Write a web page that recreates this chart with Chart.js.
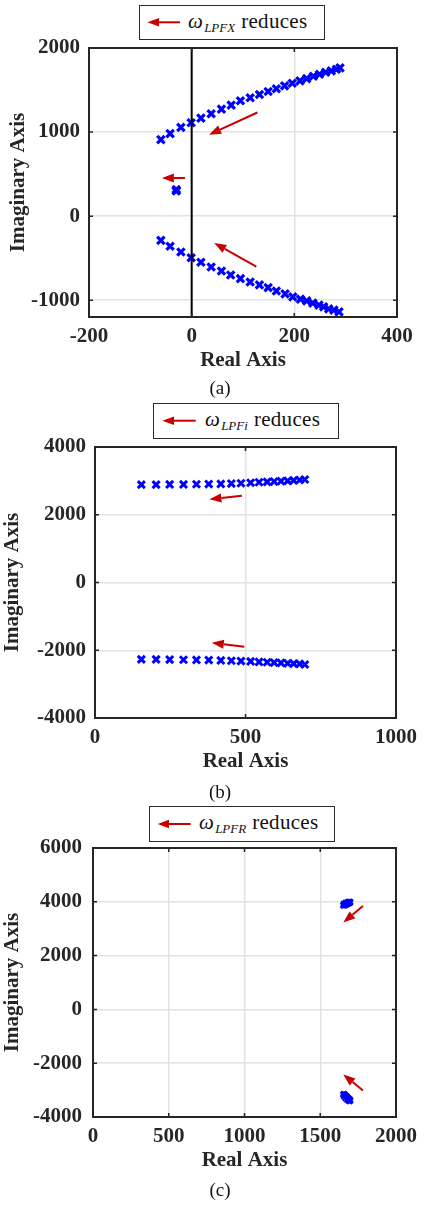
<!DOCTYPE html>
<html>
<head>
<meta charset="utf-8">
<script src="https://cdn.jsdelivr.net/npm/chart.js@4.4.1/dist/chart.umd.min.js"></script>
<style>
body{margin:0;background:#fff;width:424px;height:1205px;position:relative;overflow:hidden;font-family:"Liberation Serif","Times New Roman",serif;color:#111;}
.panel{position:absolute;left:0;width:424px;}
.lbox{position:absolute;border:1.5px solid #2b2b2b;background:#fff;box-sizing:border-box;}
.ltxt{position:absolute;white-space:nowrap;font-size:21px;line-height:21px;letter-spacing:0.3px;}
.ltxt i{font-style:italic;}
.ltxt sub{font-size:13px;font-style:italic;vertical-align:-4px;line-height:0;margin-left:1px;margin-right:6px;letter-spacing:0;}
.cap{position:absolute;width:60px;text-align:center;font-size:19px;line-height:19px;}
svg.arr{position:absolute;left:0;top:0;}
</style>
</head>
<body>

<div class="panel" style="top:0;height:400px"><canvas id="chartA"></canvas></div>
<div class="panel" style="top:400px;height:400px"><canvas id="chartB"></canvas></div>
<div class="panel" style="top:800px;height:405px"><canvas id="chartC"></canvas></div>

<!-- legend boxes -->
<div class="lbox" style="left:139px;top:5px;width:186px;height:35px"></div>
<div class="ltxt" style="left:188px;top:11px"><i>ω</i><sub>LPFX</sub>reduces</div>

<div class="lbox" style="left:153px;top:403px;width:186px;height:36px"></div>
<div class="ltxt" style="left:205px;top:409px"><i>ω</i><sub>LPFi</sub>reduces</div>

<div class="lbox" style="left:149px;top:806px;width:186px;height:36px"></div>
<div class="ltxt" style="left:199px;top:812px"><i>ω</i><sub>LPFR</sub>reduces</div>

<svg class="arr" width="424" height="1205">
  <g stroke="#c80000" stroke-width="2" fill="#c80000">
    <line x1="180" y1="22.3" x2="158" y2="22.3"/><polygon points="147.5,22.3 159,18 159,26.6" stroke="none"/>
    <line x1="195.7" y1="420.7" x2="173" y2="420.7"/><polygon points="162.3,420.7 174,416.4 174,425" stroke="none"/>
    <line x1="190.7" y1="824" x2="168" y2="824"/><polygon points="157.7,824 169,819.7 169,828.3" stroke="none"/>
  </g>
</svg>

<div class="cap" style="left:190px;top:378px">(a)</div>
<div class="cap" style="left:190px;top:782px">(b)</div>
<div class="cap" style="left:190px;top:1180px">(c)</div>

<script>
// ===== DATA =====

// (a) omega_LPFX sweep
const aUpRe = [-60,-42,-21,-1,18,38,58,77,95,114,132,149,165,181,196,211,224,237,249,261,272,282,289];
const aUpIm = [910,981,1056,1111,1166,1218,1273,1320,1372,1408,1447,1483,1515,1550,1581,1609,1636,1664,1688,1711,1728,1747,1764];
const aLoRe = [-60,-42,-21,-1,18,38,58,76,95,114,132,149,165,182,197,212,224,236,248,257,267,277,287];
const aLoIm = [-288,-359,-427,-495,-549,-605,-652,-700,-743,-783,-818,-850,-890,-925,-961,-988,-1008,-1035,-1059,-1079,-1103,-1118,-1139];
const aMidRe = [-30,-30];
const aMidIm = [300,315];
const aXTicks = [-200,0,200,400];
const aYTicks = [-1000,0,1000,2000];
const aArrows = [[128,1233,34,969],[-13,454,-58,454],[126,-601,44,-320]];

// (b) omega_LPFi sweep
const bRe   = [154,203,248,294,337,378,418,453,485,517,545,572,595,618,640,660,680,697];
const bUpIm = [2890,2890,2895,2895,2900,2905,2910,2920,2930,2945,2960,2970,2980,2990,3000,3015,3025,3040];
const bLoIm = [-2270,-2270,-2275,-2280,-2285,-2290,-2300,-2310,-2320,-2330,-2345,-2355,-2365,-2375,-2385,-2395,-2405,-2420];
const bXTicks = [0,500,1000];
const bYTicks = [-4000,-2000,0,2000,4000];
const bArrows = [[488,2558,380,2461],[496,-1899,388,-1782]];

// (c) omega_LPFR sweep
const cRe   = [1650,1655,1662,1668,1675,1682,1690,1697,1700,1694,1686,1676,1664,1654];
const cUpIm = [3870,3850,3860,3880,3900,3920,3940,3960,3990,4010,4000,3985,3960,3930];
const cLoIm = [-3160,-3140,-3150,-3190,-3230,-3270,-3310,-3350,-3390,-3420,-3400,-3360,-3300,-3230];
const cXTicks = [0,500,1000,1500,2000];
const cYTicks = [-4000,-2000,0,2000,4000,6000];
const cArrows = [[1782,3847,1652,3228],[1782,-3016,1652,-2421]];

// ===== STYLE =====
const ink = '#262626';
const red = '#c80000';
const blue = '#0000ff';
const gridColor = '#e2e2e2';
const tickFont = { family: '"Liberation Serif", "Times New Roman", serif', size: 21, weight: 'bold', lineHeight: 1.2 };

function pts(re, im) {
    return re.map((x, i) => ({ x: x, y: im[i] }));
}

function markers(re, im, r, w) {
    return {
        data: pts(re, im),
        pointStyle: 'crossRot',
        pointRadius: r,
        pointBorderWidth: w,
        borderColor: blue,
        backgroundColor: blue,
        showLine: false
    };
}

// box + inward ticks (MATLAB look)
const framePlugin = {
    id: 'frame',
    afterDraw(chart) {
        const { ctx, chartArea: a, scales: { x, y } } = chart;
        ctx.save();
        ctx.strokeStyle = ink;
        ctx.lineWidth = 1.5;
        ctx.beginPath();
        x.ticks.forEach(t => {
            const px = x.getPixelForValue(t.value);
            ctx.moveTo(px, a.bottom); ctx.lineTo(px, a.bottom - 4);
            ctx.moveTo(px, a.top); ctx.lineTo(px, a.top + 4);
        });
        y.ticks.forEach(t => {
            const py = y.getPixelForValue(t.value);
            ctx.moveTo(a.left, py); ctx.lineTo(a.left + 4, py);
            ctx.moveTo(a.right, py); ctx.lineTo(a.right - 4, py);
        });
        ctx.stroke();
        ctx.lineWidth = 2;
        ctx.strokeRect(a.left, a.top, a.right - a.left, a.bottom - a.top);
        ctx.restore();
    }
};

// red direction arrows, given in data coordinates
function arrowPlugin(list) {
    return {
        id: 'arrows',
        afterDatasetsDraw(chart) {
            const { ctx, scales: { x, y } } = chart;
            ctx.save();
            ctx.strokeStyle = red;
            ctx.fillStyle = red;
            ctx.lineWidth = 2;
            list.forEach(([x0, y0, x1, y1]) => {
                const ax = x.getPixelForValue(x0), ay = y.getPixelForValue(y0);
                const bx = x.getPixelForValue(x1), by = y.getPixelForValue(y1);
                const ang = Math.atan2(by - ay, bx - ax);
                const L = 12, W = 4.5;
                const hx = bx - L * Math.cos(ang), hy = by - L * Math.sin(ang);
                ctx.beginPath();
                ctx.moveTo(ax, ay); ctx.lineTo(hx, hy);
                ctx.stroke();
                ctx.beginPath();
                ctx.moveTo(bx, by);
                ctx.lineTo(hx + W * Math.sin(ang), hy - W * Math.cos(ang));
                ctx.lineTo(hx - W * Math.sin(ang), hy + W * Math.cos(ang));
                ctx.closePath();
                ctx.fill();
            });
            ctx.restore();
        }
    };
}

function rootLocus(id, p) {
    return new Chart(document.getElementById(id), {
        type: 'scatter',
        data: { datasets: p.datasets },
        options: {
            responsive: true,
            maintainAspectRatio: false,
            animation: false,
            layout: { padding: { left: 0, right: p.right, top: p.top, bottom: p.bottom } },
            plugins: {
                legend: { display: false },
                tooltip: { enabled: false }
            },
            scales: {
                x: {
                    type: 'linear',
                    min: p.xMin,
                    max: p.xMax,
                    afterBuildTicks: s => { s.ticks = p.xTicks.map(v => ({ value: v })); },
                    afterFit: s => { s.height = 56; },
                    grid: { color: gridColor, lineWidth: 1.5, drawTicks: false },
                    border: { display: false },
                    ticks: { padding: 7, color: ink, font: tickFont, maxRotation: 0, autoSkip: false, callback: v => String(v) },
                    title: { display: true, text: 'Real Axis', color: ink, font: tickFont, padding: { top: 0, bottom: 0 } }
                },
                y: {
                    type: 'linear',
                    min: p.yMin,
                    max: p.yMax,
                    afterBuildTicks: s => { s.ticks = p.yTicks.map(v => ({ value: v })); },
                    afterFit: s => { s.width = p.left; },
                    grid: { color: gridColor, lineWidth: 1.5, drawTicks: false },
                    border: { display: false },
                    ticks: { padding: p.yPad, color: ink, font: tickFont, autoSkip: false, callback: v => String(v) },
                    title: { display: true, text: 'Imaginary Axis', color: ink, font: tickFont, padding: { top: p.yTitle, bottom: 0 } }
                }
            }
        },
        plugins: [framePlugin, arrowPlugin(p.arrows)]
    });
}

// (a)
rootLocus('chartA', {
    datasets: [
        { data: [{ x: 0, y: -1200 }, { x: 0, y: 2000 }], showLine: true, borderColor: '#000', borderWidth: 2, pointRadius: 0 },
        markers(aUpRe, aUpIm, 5.2, 3.2),
        markers(aLoRe, aLoIm, 5.2, 3.2),
        markers(aMidRe, aMidIm, 5.2, 3.4)
    ],
    xMin: -200, xMax: 400, yMin: -1200, yMax: 2000,
    xTicks: aXTicks, yTicks: aYTicks, arrows: aArrows,
    left: 89, right: 27, top: 48, bottom: 27, yPad: 9, yTitle: 6
});

// (b)
rootLocus('chartB', {
    datasets: [
        markers(bRe, bUpIm, 5, 3),
        markers(bRe, bLoIm, 5, 3)
    ],
    xMin: 0, xMax: 1000, yMin: -4000, yMax: 4000,
    xTicks: bXTicks, yTicks: bYTicks, arrows: bArrows,
    left: 95, right: 20, top: 47, bottom: 26, yPad: 9, yTitle: 0
});

// (c)
rootLocus('chartC', {
    datasets: [
        markers(cRe, cUpIm, 3.5, 2.2),
        markers(cRe, cLoIm, 3.5, 2.2)
    ],
    xMin: 0, xMax: 2000, yMin: -4000, yMax: 6000,
    xTicks: cXTicks, yTicks: cYTicks, arrows: cArrows,
    left: 93, right: 22, top: 48, bottom: 32, yPad: 11, yTitle: 0
});
</script>
</body>
</html>
